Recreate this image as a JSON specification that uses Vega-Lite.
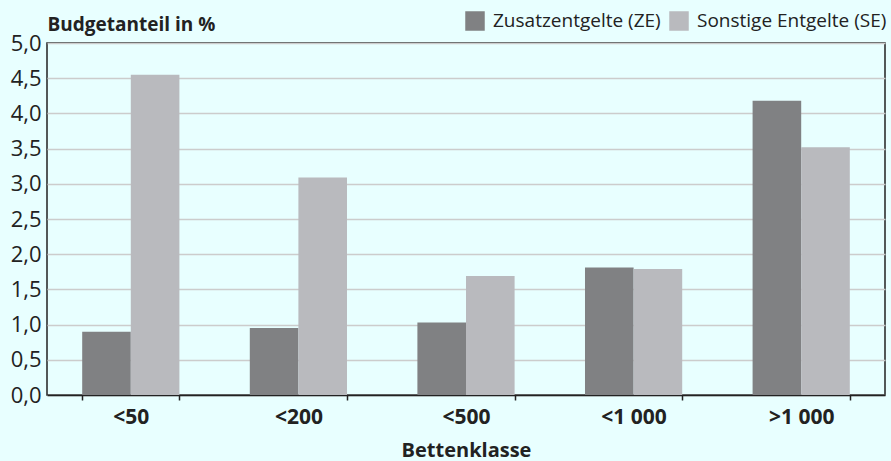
{
  "$schema": "https://vega.github.io/schema/vega-lite/v6.json",
  "width": 838,
  "height": 352,
  "autosize": {"type": "none"},
  "padding": {"left": 47, "top": 43, "right": 6, "bottom": 66},
  "background": "#e8ffff",
  "config": {
    "font": "Open Sans",
    "view": {"stroke": "#222222", "strokeWidth": 1.5, "fill": "#e8ffff"}
  },
  "data": {
    "values": [
      {"klasse": "<50", "art": "Zusatzentgelte (ZE)", "wert": 0.9},
      {"klasse": "<50", "art": "Sonstige Entgelte (SE)", "wert": 4.55},
      {"klasse": "<200", "art": "Zusatzentgelte (ZE)", "wert": 0.95},
      {"klasse": "<200", "art": "Sonstige Entgelte (SE)", "wert": 3.09},
      {"klasse": "<500", "art": "Zusatzentgelte (ZE)", "wert": 1.03},
      {"klasse": "<500", "art": "Sonstige Entgelte (SE)", "wert": 1.69},
      {"klasse": "<1 000", "art": "Zusatzentgelte (ZE)", "wert": 1.81},
      {"klasse": "<1 000", "art": "Sonstige Entgelte (SE)", "wert": 1.79},
      {"klasse": ">1 000", "art": "Zusatzentgelte (ZE)", "wert": 4.18},
      {"klasse": ">1 000", "art": "Sonstige Entgelte (SE)", "wert": 3.52}
    ]
  },
  "mark": {"type": "bar"},
  "encoding": {
    "x": {
      "field": "klasse",
      "type": "nominal",
      "sort": null,
      "scale": {"paddingInner": 0.42, "paddingOuter": 0.21},
      "axis": {
        "title": "Bettenklasse",
        "titleFontSize": 20,
        "titleFontWeight": "bold",
        "titleColor": "#222222",
        "titlePadding": 13,
        "labelAngle": 0,
        "labelFontSize": 21,
        "labelFontWeight": "bold",
        "labelColor": "#222222",
        "labelPadding": 6,
        "tickBand": "extent",
        "tickSize": 5,
        "tickColor": "#222222",
        "tickWidth": 1.5,
        "domainColor": "#222222",
        "domainWidth": 1.5
      }
    },
    "xOffset": {
      "field": "art",
      "type": "nominal",
      "sort": ["Zusatzentgelte (ZE)", "Sonstige Entgelte (SE)"],
      "scale": {"paddingInner": 0, "paddingOuter": 0}
    },
    "y": {
      "field": "wert",
      "type": "quantitative",
      "scale": {"domain": [0, 5], "nice": false},
      "axis": {
        "title": "Budgetanteil in %",
        "titleAngle": 0,
        "titleAlign": "left",
        "titleBaseline": "alphabetic",
        "titleX": 0,
        "titleY": -13,
        "titleFontSize": 19,
        "titleFontWeight": "bold",
        "titleColor": "#222222",
        "values": [0, 0.5, 1, 1.5, 2, 2.5, 3, 3.5, 4, 4.5, 5],
        "labelExpr": "replace(format(datum.value, '.1f'), '.', ',')",
        "labelFontSize": 22,
        "labelColor": "#222222",
        "labelPadding": 6,
        "ticks": false,
        "domain": false,
        "grid": true,
        "gridColor": "#cccccc",
        "gridWidth": 1.5
      }
    },
    "color": {
      "field": "art",
      "type": "nominal",
      "sort": ["Zusatzentgelte (ZE)", "Sonstige Entgelte (SE)"],
      "scale": {"domain": ["Zusatzentgelte (ZE)", "Sonstige Entgelte (SE)"], "range": ["#808183", "#b9babe"]},
      "legend": {
        "title": null,
        "orient": "none",
        "direction": "horizontal",
        "legendX": 418,
        "legendY": -32,
        "symbolType": "square",
        "symbolSize": 380,
        "symbolStrokeWidth": 0,
        "symbolOpacity": 1,
        "labelFontSize": 19,
        "labelColor": "#222222",
        "labelLimit": 400,
        "columnPadding": 8,
        "labelOffset": 8
      }
    }
  }
}
